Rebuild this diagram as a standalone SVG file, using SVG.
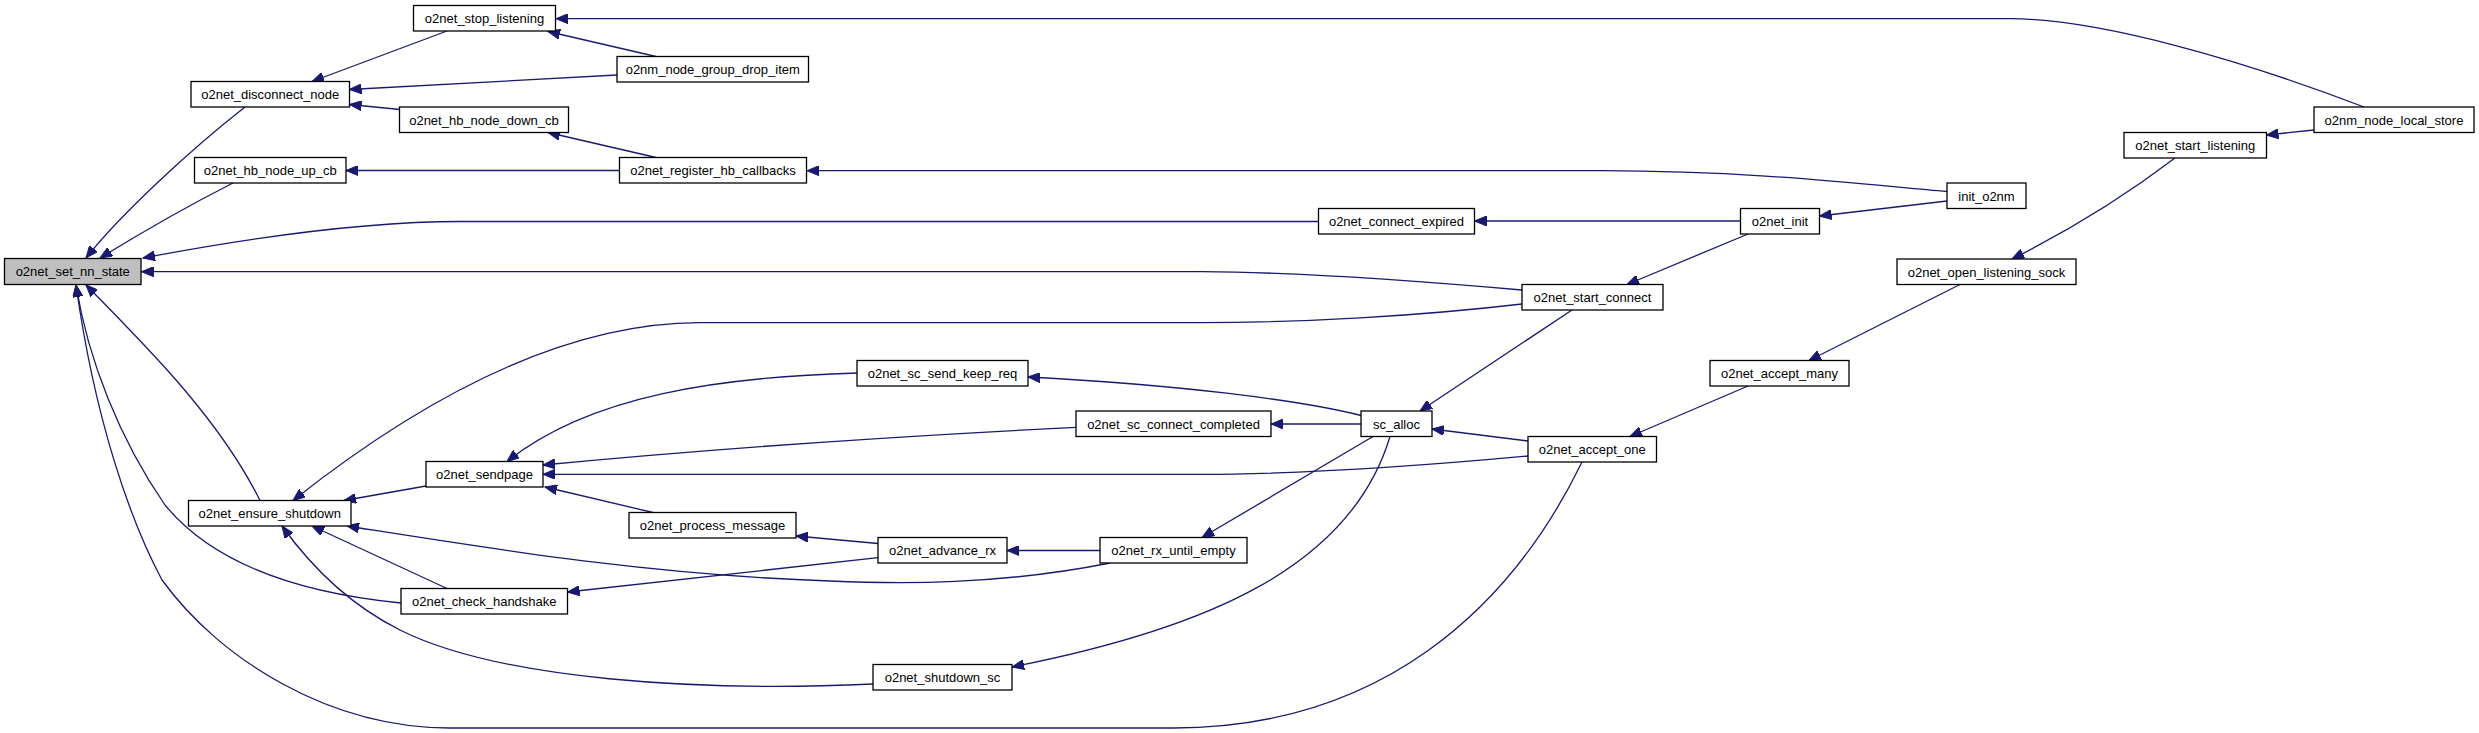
<svg xmlns="http://www.w3.org/2000/svg" width="2479" height="733" viewBox="0 0 2479 733">
<style>
.n rect{fill:#fff;stroke:#000;stroke-width:1.3}
.n.root rect{fill:#bfbfbf}
.n text{font-family:"Liberation Sans",Arial,sans-serif;font-size:13px;fill:#000;text-anchor:middle}
.e path{fill:none;stroke:#191970;stroke-width:1.3;marker-end:url(#ah)}
</style>
<defs>
<marker id="ah" markerUnits="userSpaceOnUse" markerWidth="13" markerHeight="10" refX="12" refY="5" orient="auto">
<path d="M0,0 L12,5 L0,10 z" fill="#191970" stroke="#191970" stroke-width="1"/>
</marker>
</defs>
<rect width="2479" height="733" fill="#fff"/>
<g id="connectors" class="e">
<path d="M245,107 C190,150 120,215 86,258"/>
<path d="M233,183 Q170,215 100,258"/>
<path d="M1318.5,221.5 L461,221.5 C380,221.5 280,232 143,258"/>
<path d="M1522,290 C1430,282 1300,272 1202,271.7 L141.5,271.7"/>
<path d="M260,500.5 C220,420 150,350 86,285"/>
<path d="M401,603 C290,592 210,560 165,505 C120,440 88,360 76,285"/>
<path d="M1582,462 C1510,610 1380,728 1173,728 L450,728 C330,728 220,660 162,580 C130,520 95,420 76,285"/>
<path d="M447,31 L312,81.5"/>
<path d="M617,75 L349.5,89.5"/>
<path d="M400,109.5 L349.5,104.5"/>
<path d="M656,56.5 L548,31.5"/>
<path d="M2364,107 C2244,61 2100,18.7 2010,18.7 L556,18.7"/>
<path d="M656,157.5 L548,132.5"/>
<path d="M619.5,170.5 L346,170.5"/>
<path d="M1947,191.5 C1850,183 1750,171 1600,170.7 L807,170.7"/>
<path d="M1740.5,221 L1474.5,221"/>
<path d="M1947,201 L1819.5,216"/>
<path d="M1748,234 L1627,284.5"/>
<path d="M1572,310 L1420,411"/>
<path d="M1522,304 C1420,316 1300,322.7 1200,322.7 L700,322.7 C560,322.7 420,400 293,500.5"/>
<path d="M857,373 C720,377 590,395 507,461.5"/>
<path d="M1076,427.3 C900,436 700,450 543,465"/>
<path d="M1528,456 C1420,466 1300,474.3 1200,474.3 L543,474.3"/>
<path d="M653,512.5 L545,487"/>
<path d="M426,486 L344,500.5"/>
<path d="M1110,563 C1000,585 900,584 830,581 C650,575 500,550 347,526"/>
<path d="M447,588.5 L312,526"/>
<path d="M873,684 C700,692 500,680 400,630 C350,605 310,565 282,526"/>
<path d="M878,557.7 L567.5,592"/>
<path d="M878,543.5 L796,536"/>
<path d="M1100,550.5 L1007,550.5"/>
<path d="M1373,436.5 L1202,537.5"/>
<path d="M1361,415.5 C1300,400 1180,385 1028,377"/>
<path d="M1361,424 L1271,424"/>
<path d="M1390,436.5 C1350,570 1200,630 1012,667"/>
<path d="M1528,441 L1432,429"/>
<path d="M1748,386 L1630,436.5"/>
<path d="M1960,284.5 L1809,360.5"/>
<path d="M2175,158 Q2100,215 2012,259"/>
<path d="M2314,130 L2266.5,135"/>
</g>
<g id="o2net_set_nn_state" class="n root"><rect x="4.5" y="258.5" width="136.5" height="26"/><text x="72.75" y="276">o2net_set_nn_state</text></g>
<g id="o2net_stop_listening" class="n"><rect x="413.5" y="5.5" width="142" height="25.5"/><text x="484.5" y="23">o2net_stop_listening</text></g>
<g id="o2nm_node_group_drop_item" class="n"><rect x="617" y="56.5" width="191.5" height="25.5"/><text x="712.75" y="74">o2nm_node_group_drop_item</text></g>
<g id="o2net_disconnect_node" class="n"><rect x="191" y="81.5" width="158.5" height="25.5"/><text x="270.25" y="99">o2net_disconnect_node</text></g>
<g id="o2net_hb_node_down_cb" class="n"><rect x="399.5" y="107" width="169" height="25.5"/><text x="484" y="124.5">o2net_hb_node_down_cb</text></g>
<g id="o2net_hb_node_up_cb" class="n"><rect x="194.5" y="157.5" width="151.5" height="25.5"/><text x="270.25" y="175">o2net_hb_node_up_cb</text></g>
<g id="o2net_register_hb_callbacks" class="n"><rect x="619.5" y="157.5" width="187" height="25.5"/><text x="713" y="175">o2net_register_hb_callbacks</text></g>
<g id="o2net_connect_expired" class="n"><rect x="1318.5" y="208.5" width="156" height="25.5"/><text x="1396.5" y="226">o2net_connect_expired</text></g>
<g id="o2net_start_connect" class="n"><rect x="1522" y="284.5" width="141" height="25.5"/><text x="1592.5" y="302">o2net_start_connect</text></g>
<g id="o2net_sc_send_keep_req" class="n"><rect x="857" y="360.5" width="171" height="25.5"/><text x="942.5" y="378">o2net_sc_send_keep_req</text></g>
<g id="o2net_sc_connect_completed" class="n"><rect x="1076" y="411" width="195" height="25.5"/><text x="1173.5" y="428.5">o2net_sc_connect_completed</text></g>
<g id="sc_alloc" class="n"><rect x="1361" y="411" width="71" height="25.5"/><text x="1396.5" y="428.5">sc_alloc</text></g>
<g id="o2net_accept_one" class="n"><rect x="1528" y="436.5" width="128.5" height="25.5"/><text x="1592.25" y="454">o2net_accept_one</text></g>
<g id="o2net_advance_rx" class="n"><rect x="878" y="537.5" width="129" height="25.5"/><text x="942.5" y="555">o2net_advance_rx</text></g>
<g id="o2net_rx_until_empty" class="n"><rect x="1100" y="537.5" width="147" height="25.5"/><text x="1173.5" y="555">o2net_rx_until_empty</text></g>
<g id="o2net_shutdown_sc" class="n"><rect x="873" y="664.5" width="139" height="25.5"/><text x="942.5" y="682">o2net_shutdown_sc</text></g>
<g id="o2nm_node_local_store" class="n"><rect x="2314" y="107" width="160" height="25.5"/><text x="2394" y="124.5">o2nm_node_local_store</text></g>
<g id="o2net_start_listening" class="n"><rect x="2124" y="132.5" width="142.5" height="25.5"/><text x="2195.25" y="150">o2net_start_listening</text></g>
<g id="init_o2nm" class="n"><rect x="1947" y="183" width="79" height="25.5"/><text x="1986.5" y="200.5">init_o2nm</text></g>
<g id="o2net_init" class="n"><rect x="1740.5" y="208.5" width="79" height="25.5"/><text x="1780" y="226">o2net_init</text></g>
<g id="o2net_open_listening_sock" class="n"><rect x="1897" y="259" width="179" height="25.5"/><text x="1986.5" y="276.5">o2net_open_listening_sock</text></g>
<g id="o2net_accept_many" class="n"><rect x="1710" y="360.5" width="139" height="25.5"/><text x="1779.5" y="378">o2net_accept_many</text></g>
<g id="o2net_sendpage" class="n"><rect x="426" y="461.5" width="117" height="25.5"/><text x="484.5" y="479">o2net_sendpage</text></g>
<g id="o2net_ensure_shutdown" class="n"><rect x="188.5" y="500.5" width="162.5" height="25.5"/><text x="269.75" y="518">o2net_ensure_shutdown</text></g>
<g id="o2net_process_message" class="n"><rect x="629" y="512.5" width="167" height="25.5"/><text x="712.5" y="530">o2net_process_message</text></g>
<g id="o2net_check_handshake" class="n"><rect x="401" y="588.5" width="166.5" height="25.5"/><text x="484.25" y="606">o2net_check_handshake</text></g>
</svg>
